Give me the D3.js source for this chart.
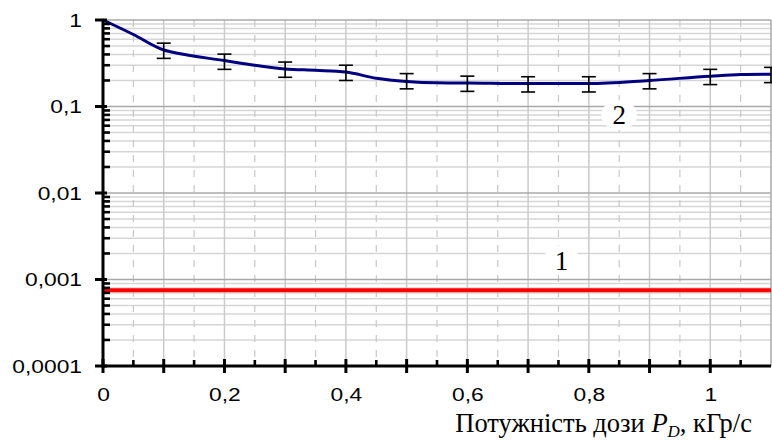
<!DOCTYPE html>
<html>
<head>
<meta charset="utf-8">
<script src="https://cdn.jsdelivr.net/npm/d3@7"></script>
<style>
body { margin: 0; background: #fff; }
</style>
</head>
<body>
<div id="graphContainer"></div>
<script>
// curve 2 (smoothed) and its error-bar points
var curveX = [0, 0.05, 0.1, 0.125, 0.2, 0.25, 0.3, 0.35, 0.4, 0.45, 0.5, 0.55, 0.6, 0.7, 0.8, 0.9, 1.0, 1.05, 1.1];
var curveY = [1, 0.68, 0.45, 0.41, 0.34, 0.30, 0.272, 0.262, 0.25, 0.212, 0.195, 0.188, 0.187, 0.184, 0.184, 0.2, 0.224, 0.234, 0.236];
var errX = [0.1, 0.2, 0.3, 0.4, 0.5, 0.6, 0.7, 0.8, 0.9, 1.0, 1.1];
var errY = [0.45, 0.336, 0.272, 0.25, 0.2, 0.187, 0.184, 0.184, 0.2, 0.224, 0.236];
var errRel = 0.2;
// curve 1
var line1X = [0, 1.1];
var line1Y = [0.00075, 0.00075];
// ticks and labels
var xLabelVals = [0, 0.2, 0.4, 0.6, 0.8, 1.0];
var yLabelVals = [1, 0.1, 0.01, 0.001, 0.0001];
var notes = [
	{ text: "2", x: 0.85, y: 0.08 },
	{ text: "1", x: 0.755, y: 0.00167 }
];

var sansFont = "'Liberation Sans', Arial, 'DejaVu Sans', sans-serif";
var serifFont = "'Liberation Serif', 'Times New Roman', Times, 'DejaVu Serif', serif";

window.onload = function()
{
	DrawChart();
}

function DrawChart()
{
	var W = 772, H = 444;
	var left = 103, right = 771, top = 20, bottom = 366;

	var svg = d3.select("#graphContainer").append("svg")
		.attr("width", W)
		.attr("height", H);

	var x = d3.scaleLinear().domain([0, 1.1]).range([left, right]);
	var y = d3.scaleLog().domain([0.0001, 1]).range([bottom, top]);

	var loc = d3.formatLocale({ decimal: ",", thousands: " ", grouping: [3], currency: ["", ""] });
	var fmt = function(v) { return loc.format("~g")(+v.toFixed(4)); };

	/* grid */
	var grid = svg.append("g");
	var xMajor = d3.range(0, 11).map(function(i) { return i / 10; }).concat([1.1]);
	var xMinor = d3.range(0, 11).map(function(i) { return i / 10 + 0.05; });
	var yMinor = [];
	[0.0001, 0.001, 0.01, 0.1].forEach(function(d) {
		for (var k = 2; k <= 9; k++) yMinor.push(d * k);
	});

	grid.selectAll(".ymin").data(yMinor).enter().append("line")
		.attr("x1", left).attr("x2", right)
		.attr("y1", d => y(d)).attr("y2", d => y(d))
		.attr("stroke", "#d6d6d6").attr("stroke-width", 1.5);
	grid.selectAll(".xmin").data(xMinor).enter().append("line")
		.attr("x1", d => x(d)).attr("x2", d => x(d))
		.attr("y1", top).attr("y2", bottom)
		.attr("stroke", "#c8c8c8").attr("stroke-width", 1.2)
		.attr("stroke-dasharray", "7,8");
	grid.selectAll(".xmaj").data(xMajor).enter().append("line")
		.attr("x1", d => x(d)).attr("x2", d => x(d))
		.attr("y1", top).attr("y2", bottom)
		.attr("stroke", d => d > 1.05 ? "#a8a8a8" : "#cbcbcb").attr("stroke-width", 1.5);
	grid.selectAll(".ymaj").data(yLabelVals).enter().append("line")
		.attr("x1", left).attr("x2", right)
		.attr("y1", d => y(d)).attr("y2", d => y(d))
		.attr("stroke", "#a8a8a8").attr("stroke-width", 1.5);

	/* series 1 */
	var lineGen = d3.line()
		.x(function(d) { return x(d[0]); })
		.y(function(d) { return y(d[1]); });
	svg.append("path")
		.attr("d", lineGen(d3.zip(line1X, line1Y)))
		.attr("fill", "none")
		.attr("stroke", "#ff0000")
		.attr("stroke-width", 4);

	/* series 2 */
	svg.append("path")
		.attr("d", lineGen.curve(d3.curveMonotoneX)(d3.zip(curveX, curveY)))
		.attr("fill", "none")
		.attr("stroke", "#000080")
		.attr("stroke-width", 3);

	/* error bars */
	var eb = svg.append("g").attr("stroke", "#000").attr("stroke-width", 1.6);
	var errs = d3.zip(errX, errY);
	var cap = 7;
	eb.selectAll(".v").data(errs).enter().append("line")
		.attr("x1", d => x(d[0])).attr("x2", d => x(d[0]))
		.attr("y1", d => y(d[1] * (1 + errRel))).attr("y2", d => y(d[1] * (1 - errRel)));
	eb.selectAll(".t").data(errs).enter().append("line")
		.attr("x1", d => x(d[0]) - cap).attr("x2", d => Math.min(x(d[0]) + cap, W))
		.attr("y1", d => y(d[1] * (1 + errRel))).attr("y2", d => y(d[1] * (1 + errRel)));
	eb.selectAll(".b").data(errs).enter().append("line")
		.attr("x1", d => x(d[0]) - cap).attr("x2", d => Math.min(x(d[0]) + cap, W))
		.attr("y1", d => y(d[1] * (1 - errRel))).attr("y2", d => y(d[1] * (1 - errRel)));

	/* annotations */
	var ann = svg.selectAll(".note").data(notes).enter().append("g")
		.attr("transform", d => `translate(${x(d.x)}, ${y(d.y)})`);
	ann.append("ellipse").attr("rx", 18).attr("ry", 15).attr("fill", "#fff");
	ann.append("text")
		.attr("text-anchor", "middle")
		.attr("dy", "0.35em")
		.style("font-family", serifFont)
		.style("font-size", "27px")
		.text(d => d.text);

	/* axes */
	var ax = svg.append("g").attr("stroke", "#000").attr("stroke-width", 3);
	ax.append("line").attr("x1", left).attr("x2", left).attr("y1", top).attr("y2", bottom + 1.5);
	ax.append("line").attr("x1", left - 1.5).attr("x2", right).attr("y1", bottom).attr("y2", bottom);
	ax.selectAll(".yt").data(yLabelVals).enter().append("line")
		.attr("x1", left - 8).attr("x2", left + 4)
		.attr("y1", d => y(d)).attr("y2", d => y(d));
	ax.selectAll(".ytm").data(yMinor).enter().append("line")
		.attr("x1", left).attr("x2", left + 7)
		.attr("y1", d => y(d)).attr("y2", d => y(d))
		.attr("stroke-width", 2.6);
	ax.selectAll(".xt").data(xMajor.slice(0, 11)).enter().append("line")
		.attr("x1", d => x(d)).attr("x2", d => x(d))
		.attr("y1", bottom - 7).attr("y2", bottom + 7);
	ax.selectAll(".xtm").data(xMinor).enter().append("line")
		.attr("x1", d => x(d)).attr("x2", d => x(d))
		.attr("y1", bottom - 6).attr("y2", bottom)
		.attr("stroke-width", 2.6);

	var yAxis = d3.axisLeft(y).tickValues(yLabelVals).tickSize(0).tickFormat(fmt);
	var gy = svg.append("g")
		.attr("transform", `translate(${left}, 0)`)
		.call(yAxis);
	gy.select(".domain").remove();
	gy.selectAll("text")
		.attr("x", -21 / 1.2)
		.attr("transform", "scale(1.2,1)")
		.style("font-family", sansFont)
		.style("font-size", "19px")
		.attr("fill", "#000");

	var xAxis = d3.axisBottom(x).tickValues(xLabelVals).tickSize(0).tickFormat(fmt);
	var gx = svg.append("g")
		.attr("transform", `translate(0, ${bottom})`)
		.call(xAxis);
	gx.select(".domain").remove();
	gx.selectAll("text")
		.attr("y", 22)
		.attr("transform", "scale(1.2,1)")
		.style("font-family", sansFont)
		.style("font-size", "19px")
		.attr("fill", "#000");

	/* axis title */
	var title = svg.append("text")
		.attr("x", 752)
		.attr("y", 432)
		.attr("text-anchor", "end")
		.style("font-family", serifFont)
		.style("font-size", "26.5px")
		.attr("fill", "#000");
	title.append("tspan").text("Потужність дози ");
	title.append("tspan").style("font-style", "italic").text("P");
	title.append("tspan").style("font-style", "italic").style("font-size", "17px").attr("dy", 5).text("D");
	title.append("tspan").attr("dy", -5).text(", кГр/с");
}
</script>
</body>
</html>
